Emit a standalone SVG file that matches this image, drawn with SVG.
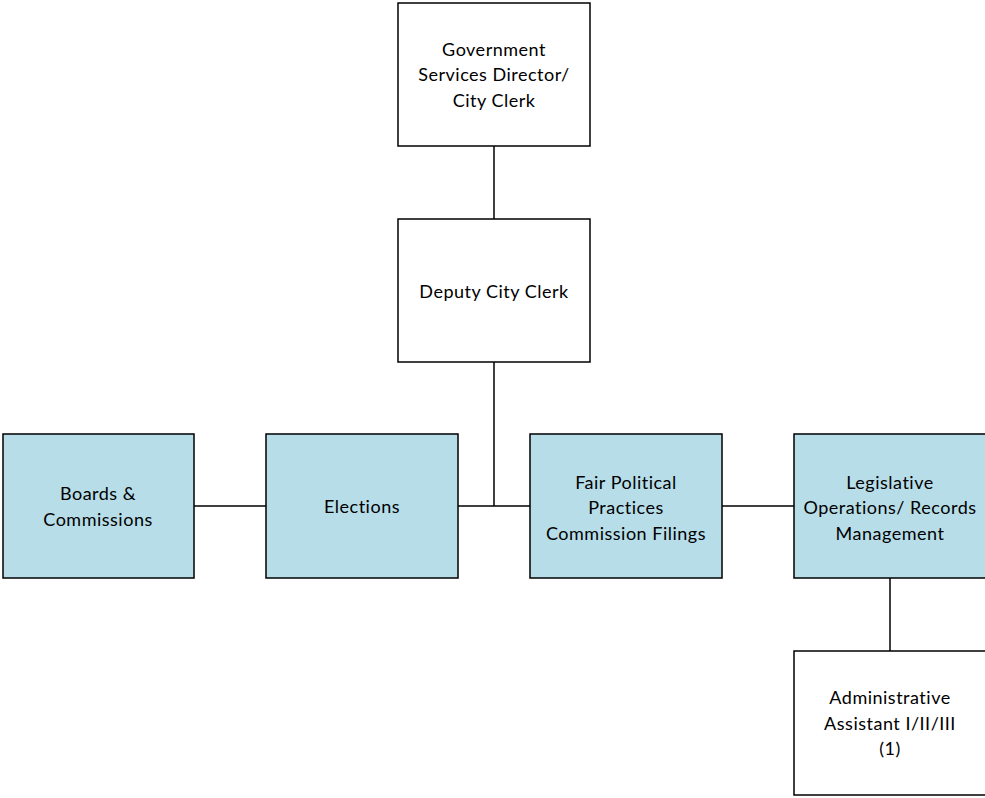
<svg xmlns="http://www.w3.org/2000/svg" width="985" height="798" viewBox="0 0 985 798">
<style>
.box{stroke:#000;stroke-width:1.5}
.w{fill:#fff}
.b{fill:#b7dde8}
.t{font-family:Lato,"Liberation Sans",sans-serif;font-size:18px;letter-spacing:0.5px;fill:#000;text-anchor:middle}
.c{stroke:#000;stroke-width:1.5;fill:none}
</style>
<rect width="985" height="798" fill="#fff"/>
<g id="connectors">
<line class="c" x1="494" y1="146" x2="494" y2="219"/>
<line class="c" x1="494" y1="362" x2="494" y2="506"/>
<line class="c" x1="194" y1="506" x2="266" y2="506"/>
<line class="c" x1="458" y1="506" x2="530" y2="506"/>
<line class="c" x1="722" y1="506" x2="794" y2="506"/>
<line class="c" x1="890" y1="578" x2="890" y2="651"/>
</g>
<g id="director">
<rect class="box w" x="398" y="3" width="192" height="143"/>
<text class="t" x="494" y="56">Government</text>
<text class="t" x="494" y="81">Services Director/</text>
<text class="t" x="494" y="107">City Clerk</text>
</g>
<g id="deputy">
<rect class="box w" x="398" y="219" width="192" height="143"/>
<text class="t" x="494" y="298">Deputy City Clerk</text>
</g>
<g id="boards">
<rect class="box b" x="3" y="434" width="191" height="144"/>
<text class="t" x="98" y="500">Boards &amp;</text>
<text class="t" x="98" y="526">Commissions</text>
</g>
<g id="elections">
<rect class="box b" x="266" y="434" width="192" height="144"/>
<text class="t" x="362" y="513">Elections</text>
</g>
<g id="fppc">
<rect class="box b" x="530" y="434" width="192" height="144"/>
<text class="t" x="626" y="489">Fair Political</text>
<text class="t" x="626" y="514">Practices</text>
<text class="t" x="626" y="540">Commission Filings</text>
</g>
<g id="legislative">
<rect class="box b" x="794" y="434" width="194" height="144"/>
<text class="t" x="890" y="489">Legislative</text>
<text class="t" x="890" y="514">Operations/ Records</text>
<text class="t" x="890" y="540">Management</text>
</g>
<g id="admin">
<rect class="box w" x="794" y="651" width="194" height="144"/>
<text class="t" x="890" y="704">Administrative</text>
<text class="t" x="890" y="730">Assistant I/II/III</text>
<text class="t" x="890" y="755">(1)</text>
</g>
</svg>
